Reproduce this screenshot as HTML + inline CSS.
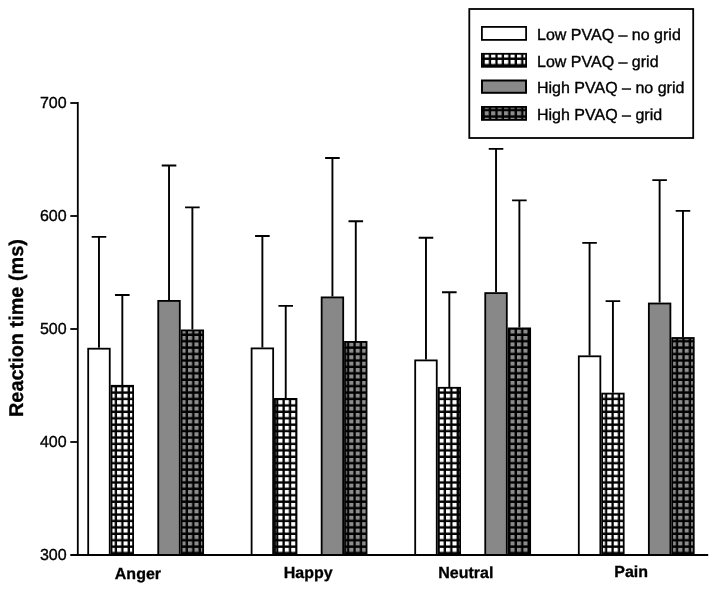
<!DOCTYPE html>
<html><head><meta charset="utf-8"><title>Reaction time chart</title>
<style>
html,body{margin:0;padding:0;background:#fff;}
svg{display:block;filter:grayscale(1);}
text{text-rendering:geometricPrecision;font-family:"Liberation Sans",Arial,Helvetica,sans-serif;fill:#000;}
.t{font-size:16px;stroke:#000;stroke-width:0.35px;}
.b{font-size:16px;font-weight:bold;stroke:#000;stroke-width:0.3px;}
.yl{font-size:19.9px;font-weight:bold;stroke:#000;stroke-width:0.3px;}
</style></head><body>
<svg width="716" height="591" viewBox="0 0 716 591">
<defs>
<pattern id="gw" patternUnits="userSpaceOnUse" x="0.97" y="2.14" width="6.45" height="6.42"><rect width="6.45" height="6.42" fill="#000"/><rect x="0" y="0" width="4.15" height="4.05" fill="#fff"/></pattern>
<pattern id="gd" patternUnits="userSpaceOnUse" x="0.97" y="2.14" width="6.45" height="6.42"><rect width="6.45" height="6.42" fill="#000"/><rect x="0" y="0" width="4.1" height="4.0" fill="#8c8c8c"/></pattern>
</defs>
<rect width="716" height="591" fill="#fff"/>
<path d="M98.97 347.80V236.90M91.67 236.90H106.27" stroke="#000" stroke-width="1.9" fill="none"/>
<path d="M122.33 384.90V295.00M115.03 295.00H129.62" stroke="#000" stroke-width="1.9" fill="none"/>
<path d="M169.03 300.00V165.50M161.73 165.50H176.33" stroke="#000" stroke-width="1.9" fill="none"/>
<path d="M192.38 329.50V207.40M185.07 207.40H199.68" stroke="#000" stroke-width="1.9" fill="none"/>
<path d="M262.38 347.50V236.00M255.07 236.00H269.68" stroke="#000" stroke-width="1.9" fill="none"/>
<path d="M285.73 398.00V305.90M278.43 305.90H293.03" stroke="#000" stroke-width="1.9" fill="none"/>
<path d="M332.43 296.50V158.00M325.12 158.00H339.73" stroke="#000" stroke-width="1.9" fill="none"/>
<path d="M355.78 341.00V221.30M348.48 221.30H363.08" stroke="#000" stroke-width="1.9" fill="none"/>
<path d="M425.98 359.50V237.80M418.68 237.80H433.28" stroke="#000" stroke-width="1.9" fill="none"/>
<path d="M449.33 386.90V292.20M442.03 292.20H456.63" stroke="#000" stroke-width="1.9" fill="none"/>
<path d="M496.03 292.20V148.90M488.73 148.90H503.33" stroke="#000" stroke-width="1.9" fill="none"/>
<path d="M519.38 327.50V200.40M512.08 200.40H526.67" stroke="#000" stroke-width="1.9" fill="none"/>
<path d="M589.57 355.40V242.90M582.27 242.90H596.87" stroke="#000" stroke-width="1.9" fill="none"/>
<path d="M612.92 392.70V301.10M605.62 301.10H620.22" stroke="#000" stroke-width="1.9" fill="none"/>
<path d="M659.62 302.60V180.10M652.33 180.10H666.92" stroke="#000" stroke-width="1.9" fill="none"/>
<path d="M682.97 337.10V210.90M675.67 210.90H690.27" stroke="#000" stroke-width="1.9" fill="none"/>
<rect x="88.20" y="348.70" width="21.55" height="206.30" fill="#fff" stroke="#000" stroke-width="1.8"/>
<rect x="111.55" y="385.80" width="21.55" height="169.20" fill="url(#gw)" stroke="#000" stroke-width="1.8"/>
<rect x="158.25" y="300.90" width="21.55" height="254.10" fill="#888" stroke="#000" stroke-width="1.8"/>
<rect x="181.60" y="330.40" width="21.55" height="224.60" fill="url(#gd)" stroke="#000" stroke-width="1.8"/>
<rect x="251.60" y="348.40" width="21.55" height="206.60" fill="#fff" stroke="#000" stroke-width="1.8"/>
<rect x="274.95" y="398.90" width="21.55" height="156.10" fill="url(#gw)" stroke="#000" stroke-width="1.8"/>
<rect x="321.65" y="297.40" width="21.55" height="257.60" fill="#888" stroke="#000" stroke-width="1.8"/>
<rect x="345.00" y="341.90" width="21.55" height="213.10" fill="url(#gd)" stroke="#000" stroke-width="1.8"/>
<rect x="415.20" y="360.40" width="21.55" height="194.60" fill="#fff" stroke="#000" stroke-width="1.8"/>
<rect x="438.55" y="387.80" width="21.55" height="167.20" fill="url(#gw)" stroke="#000" stroke-width="1.8"/>
<rect x="485.25" y="293.10" width="21.55" height="261.90" fill="#888" stroke="#000" stroke-width="1.8"/>
<rect x="508.60" y="328.40" width="21.55" height="226.60" fill="url(#gd)" stroke="#000" stroke-width="1.8"/>
<rect x="578.80" y="356.30" width="21.55" height="198.70" fill="#fff" stroke="#000" stroke-width="1.8"/>
<rect x="602.15" y="393.60" width="21.55" height="161.40" fill="url(#gw)" stroke="#000" stroke-width="1.8"/>
<rect x="648.85" y="303.50" width="21.55" height="251.50" fill="#888" stroke="#000" stroke-width="1.8"/>
<rect x="672.20" y="338.00" width="21.55" height="217.00" fill="url(#gd)" stroke="#000" stroke-width="1.8"/>
<path d="M77.8 102.1V555.0M70.3 555.0H708.2" stroke="#000" stroke-width="1.8" fill="none"/>
<path d="M70.3 442.00H77.8" stroke="#000" stroke-width="1.8"/>
<path d="M70.3 329.00H77.8" stroke="#000" stroke-width="1.8"/>
<path d="M70.3 216.00H77.8" stroke="#000" stroke-width="1.8"/>
<path d="M70.3 103.00H77.8" stroke="#000" stroke-width="1.8"/>
<text transform="translate(66.60 560.00) scale(1.0 1)" text-anchor="end" class="t">300</text>
<text transform="translate(66.60 447.00) scale(1.0 1)" text-anchor="end" class="t">400</text>
<text transform="translate(66.60 334.00) scale(1.0 1)" text-anchor="end" class="t">500</text>
<text transform="translate(66.60 221.00) scale(1.0 1)" text-anchor="end" class="t">600</text>
<text transform="translate(66.60 108.00) scale(1.0 1)" text-anchor="end" class="t">700</text>
<text transform="translate(114.80 579.00) scale(1.0 1)" text-anchor="start" class="b">Anger</text>
<text transform="translate(283.70 578.20) scale(1.0 1)" text-anchor="start" class="b">Happy</text>
<text transform="translate(438.20 577.90) scale(1.0 1)" text-anchor="start" class="b">Neutral</text>
<text transform="translate(614.30 577.00) scale(1.0 1)" text-anchor="start" class="b">Pain</text>
<text transform="translate(23 417) rotate(-90)" class="yl">Reaction time (ms)</text>
<rect x="469.3" y="9" width="223.9" height="129" fill="#fff" stroke="#000" stroke-width="1.8"/>
<rect x="481.9" y="26.90" width="44.2" height="13" fill="#fff" stroke="#000" stroke-width="1.8"/>
<text transform="translate(537.00 40.10) scale(1.0 1)" text-anchor="start" class="t">Low PVAQ – no grid</text>
<rect x="481.9" y="53.80" width="44.2" height="13" fill="url(#gw)" stroke="#000" stroke-width="1.8"/>
<text transform="translate(537.00 66.60) scale(1.0 1)" text-anchor="start" class="t">Low PVAQ – grid</text>
<rect x="482" y="80.5" width="44" height="12.3" fill="#888" stroke="#000" stroke-width="2"/>
<text transform="translate(537.00 93.10) scale(1.0 1)" text-anchor="start" class="t">High PVAQ – no grid</text>
<rect x="481.9" y="106.90" width="44.2" height="13" fill="url(#gd)" stroke="#000" stroke-width="1.8"/>
<text transform="translate(537.00 119.60) scale(1.0 1)" text-anchor="start" class="t">High PVAQ – grid</text>
</svg>
</body></html>
